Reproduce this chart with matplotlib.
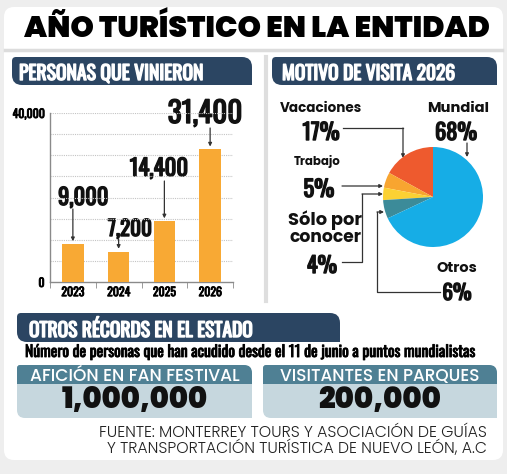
import matplotlib
matplotlib.use("Agg")
import numpy as np
import matplotlib.pyplot as plt
import matplotlib.patheffects as pe
from matplotlib import font_manager
from matplotlib.path import Path
from matplotlib.patches import PathPatch
from matplotlib.transforms import blended_transform_factory

# ---- data ----
years = ["2023", "2024", "2025", "2026"]
visitors = [9000, 7200, 14400, 31400]
visitor_labels = ["9,000", "7,200", "14,400", "31,400"]

motives = ["Vacaciones", "Trabajo", "Sólo por conocer", "Otros", "Mundial"]
motive_pct = [17, 5, 4, 6, 68]
motive_colors = ["#ee5a2e", "#f8a530", "#fbd133", "#3c8b99", "#16ade6"]

record_titles = ["AFICIÓN EN FAN FESTIVAL", "VISITANTES EN PARQUES"]
record_values = ["1,000,000", "200,000"]

W, H = 507, 474
NAVY = "#2b4562"


def pick(cands, weight=None):
    # first family that is installed (and has a face near the wanted weight)
    for name in cands:
        for f in font_manager.fontManager.ttflist:
            try:
                fw = int(f.weight)
            except (TypeError, ValueError):
                fw = 400
            if f.name == name and f.style == "normal" and (weight is None or abs(fw - weight) <= 100):
                return [name, "DejaVu Sans"]
    return ["DejaVu Sans"]


COND = pick(["Oswald", "Roboto Condensed", "Barlow Condensed"])
HEAVY = pick(["Poppins", "Lato", "Nunito Sans", "Raleway", "Inter"], 900)
BOLD = pick(["Poppins", "Lato", "Nunito Sans", "Raleway", "Inter"], 700)
MED = pick(["Poppins", "Lato", "Nunito Sans", "Raleway", "Inter"], 500)
LIGHT = pick(["Poppins", "Lato", "Nunito Sans", "Raleway", "Inter"], 300)

fig = plt.figure(figsize=(W / 100, H / 100), dpi=100, facecolor="#eeeeee")
bg = fig.add_axes([0, 0, 1, 1])
bg.set_xlim(0, W)
bg.set_ylim(H, 0)
bg.axis("off")

fits = []


def rrect(x0, y0, x1, y1, r, color, z=1):
    tl, tr, br, bl = r
    verts = [(x0 + tl, y0), (x1 - tr, y0), (x1, y0), (x1, y0 + tr), (x1, y1 - br), (x1, y1),
             (x1 - br, y1), (x0 + bl, y1), (x0, y1), (x0, y1 - bl), (x0, y0 + tl), (x0, y0),
             (x0 + tl, y0), (x0 + tl, y0)]
    codes = [Path.MOVETO, Path.LINETO, Path.CURVE3, Path.CURVE3, Path.LINETO, Path.CURVE3,
             Path.CURVE3, Path.LINETO, Path.CURVE3, Path.CURVE3, Path.LINETO, Path.CURVE3,
             Path.CURVE3, Path.CLOSEPOLY]
    bg.add_patch(PathPatch(Path(verts, codes), facecolor=color, edgecolor="none", zorder=z))


def txt(x, y, s, w, fam, color="#111111", ha="left"):
    family, weight, stroke = fam
    t = bg.text(x, y, s, ha=ha, va="baseline", family=family, fontweight=weight,
                color=color, fontsize=10, zorder=5)
    if stroke:
        t.set_path_effects([pe.withStroke(linewidth=stroke, foreground=color)])
    fits.append((t, w))
    return t


def leader(pts):
    xs = [p[0] for p in pts]
    ys = [p[1] for p in pts]
    bg.plot(xs[:-1], ys[:-1], color="#333333", lw=0.9, zorder=4)
    bg.annotate("", xy=pts[-1], xytext=pts[-2],
                arrowprops=dict(arrowstyle="-|>", color="#333333", lw=0.9,
                                mutation_scale=5, shrinkA=0, shrinkB=0), zorder=4)


F_COND = (COND, "bold", 1.0)
F_COND_S = (COND, "bold", 0.6)
F_HEAVY = (HEAVY, 900, 0)
F_BOLD = (BOLD, 700, 0)
F_MED = (MED, 500, 0)
F_LIGHT = (LIGHT, 300, 0)

# card + frame
rrect(4, 7, 503, 460, (10, 10, 10, 10), "white", z=0)
txt(257, 37, "AÑO TURÍSTICO EN LA ENTIDAD", 468, F_HEAVY, color="black", ha="center")
bg.plot([5, 502], [50, 50], color="#dcdcdc", lw=2.5, zorder=1)
bg.plot([266, 266], [57, 301], color="#dedede", lw=3, zorder=1)

# section tabs
rrect(12, 57, 252, 85, (4, 10, 0, 10), NAVY)
txt(19, 80, "PERSONAS QUE VINIERON", 184, F_COND, color="white")
rrect(272, 57, 497, 85, (4, 10, 0, 10), NAVY)
txt(282, 80, "MOTIVO DE VISITA 2026", 173, F_COND, color="white")
rrect(17, 313, 340, 342, (4, 10, 0, 10), NAVY)
txt(29, 337, "OTROS RÉCORDS EN EL ESTADO", 224, F_COND, color="white")

# ---- bar chart ----
ax = fig.add_axes([50 / W, 1 - 282 / H, 183 / W, 169 / H])
x = np.arange(len(years))
ax.bar(x, visitors, width=0.47, color="#f8a934", zorder=3)
ax.set_xlim(-0.475, 3.475)
ax.set_ylim(0, 40000)
for g in range(5000, 40001, 5000):
    ax.axhline(g, color="#c4c4c4", lw=0.8, ls=(0, (1, 1)), zorder=1)
ax.set_yticks([0, 40000])
ax.set_yticklabels(["0", "40,000"], family=COND, fontweight="bold", fontsize=8.5)
ax.set_xticks(x)
ax.set_xticklabels(years, family=COND, fontweight="bold", fontsize=8.5)
for lab in ax.get_xticklabels() + ax.get_yticklabels():
    lab.set_path_effects([pe.withStroke(linewidth=0.6, foreground="black")])
ax.set_xticks(np.arange(-0.5, len(years)), minor=True)
ax.tick_params(axis="x", which="major", length=0, pad=3)
ax.tick_params(axis="x", which="minor", length=4, color="#8a8a8a")
ax.tick_params(axis="y", length=0, pad=4)
ax.patch.set_alpha(0)
for s in ["top", "right"]:
    ax.spines[s].set_visible(False)
for s in ["left", "bottom"]:
    ax.spines[s].set_color("#8a8a8a")
    ax.spines[s].set_linewidth(1)

label_pos = [(83, 205, 50), (130, 236, 44), (159, 176, 58), (205, 123, 74)]
arrow_top = [209, 239, 181, 128]
mix = blended_transform_factory(ax.transData, bg.transData)
for i, lab in enumerate(visitor_labels):
    lx, ly, lw_ = label_pos[i]
    txt(lx, ly, lab, lw_, F_COND, ha="center")
    ax.annotate("", xy=(i, visitors[i]), xytext=(i, arrow_top[i]), textcoords=mix,
                arrowprops=dict(arrowstyle="-|>", color="#333333", lw=0.9,
                                mutation_scale=5, shrinkA=0, shrinkB=2), zorder=4)

# ---- pie ----
pax = fig.add_axes([(433 - 50) / W, 1 - (197 + 50) / H, 100 / W, 100 / H])
pax.pie(motive_pct, colors=motive_colors, startangle=90, counterclock=True,
        wedgeprops=dict(linewidth=0))
pax.set_xlim(-1, 1)
pax.set_ylim(-1, 1)
pax.set_aspect("equal")

txt(321, 112, "Vacaciones", 82, F_BOLD, ha="center")
txt(321, 140, "%d%%" % motive_pct[0], 37, F_COND, ha="center")
leader([(343, 128), (403, 128), (403, 158)])

txt(458, 112, "Mundial", 62, F_BOLD, ha="center")
txt(456, 140, "%d%%" % motive_pct[4], 42, F_COND, ha="center")
leader([(467, 143), (467, 157)])

txt(317, 165, "Trabajo", 47, F_BOLD, ha="center")
txt(319, 197, "%d%%" % motive_pct[1], 31, F_COND, ha="center")
leader([(342, 186), (383, 186)])

txt(325, 225, "Sólo por", 74, F_BOLD, ha="center")
txt(325, 242, "conocer", 72, F_BOLD, ha="center")
txt(322, 273, "%d%%" % motive_pct[2], 30, F_COND, ha="center")
leader([(342, 262), (362, 262), (362, 194), (383, 194)])

txt(457, 272, "Otros", 41, F_BOLD, ha="center")
txt(457, 300, "%d%%" % motive_pct[3], 29, F_COND, ha="center")
leader([(440, 292), (377, 292), (377, 212), (384, 212)])

# ---- records ----
txt(25, 357, "Número de personas que han acudido desde el 11 de junio a puntos mundialistas",
    449, F_COND_S, color="black")
boxes = [(17, 252, 210, 146), (263, 497, 199, 122)]
for (bx0, bx1, tw, vw), title, val in zip(boxes, record_titles, record_values):
    rrect(bx0, 365, bx1, 418, (3, 8, 0, 8), "#c6d7de")
    rrect(bx0, 365, bx1, 384, (3, 8, 0, 0), "#4f8094", z=2)
    cx = (bx0 + bx1) / 2
    txt(cx, 381, title, tw, F_MED, color="white", ha="center")
    txt(cx, 408, val, vw, F_HEAVY, color="#111111", ha="center")

txt(487, 437, "FUENTE: MONTERREY TOURS Y ASOCIACIÓN DE GUÍAS", 389, F_LIGHT,
    color="#222222", ha="right")
txt(487, 453, "Y TRANSPORTACIÓN TURÍSTICA DE NUEVO LEÓN, A.C", 380, F_LIGHT,
    color="#222222", ha="right")

# scale every text to its width in the reference
fig.canvas.draw()
rend = fig.canvas.get_renderer()
for t, w in fits:
    bb = t.get_window_extent(rend)
    t.set_fontsize(t.get_fontsize() * w / bb.width)

fig.savefig("out.png", dpi=100, facecolor=fig.get_facecolor())
